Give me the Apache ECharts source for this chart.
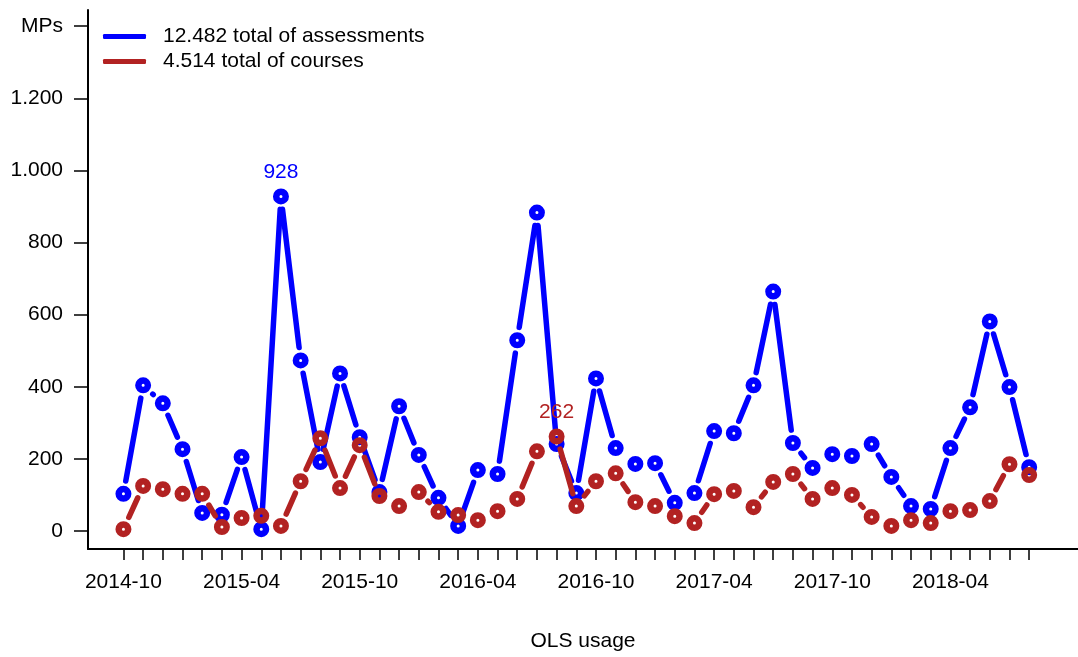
<!DOCTYPE html>
<html>
<head>
<meta charset="utf-8">
<script src="https://cdn.jsdelivr.net/npm/echarts@6/dist/echarts.min.js"></script>
<style>
  html, body { margin: 0; padding: 0; background: #fff; }
  #chart { width: 1078px; height: 657px; }
</style>
</head>
<body>
<div id="chart"></div>
<script>
// months on the x axis
var months = [
  '2014-10', '2014-11', '2014-12',
  '2015-01', '2015-02', '2015-03', '2015-04', '2015-05', '2015-06', '2015-07', '2015-08', '2015-09', '2015-10', '2015-11', '2015-12',
  '2016-01', '2016-02', '2016-03', '2016-04', '2016-05', '2016-06', '2016-07', '2016-08', '2016-09', '2016-10', '2016-11', '2016-12',
  '2017-01', '2017-02', '2017-03', '2017-04', '2017-05', '2017-06', '2017-07', '2017-08', '2017-09', '2017-10', '2017-11', '2017-12',
  '2018-01', '2018-02', '2018-03', '2018-04', '2018-05', '2018-06', '2018-07', '2018-08'
];
var xTickLabels = ['2014-10', '2015-04', '2015-10', '2016-04', '2016-10', '2017-04', '2017-10', '2018-04'];

// MPs per month
var assessments = [103, 404, 354, 227, 50, 45, 205, 5, 928, 473, 191, 437, 260, 108, 346, 211, 92, 14, 169, 158,
  529, 883, 241, 105, 423, 230, 186, 188, 78, 105, 277, 271, 404, 664, 244, 175, 213, 208, 241, 150, 69, 61,
  230, 343, 581, 399, 177];
var courses = [5, 125, 116, 103, 103, 11, 36, 42, 14, 138, 257, 119, 238, 97, 69, 108, 53, 44, 30, 55,
  89, 221, 262, 69, 138, 160, 80, 69, 41, 22, 102, 111, 66, 136, 158, 89, 119, 100, 39, 14, 30, 22,
  55, 58, 83, 185, 155];

var yTicks = [0, 200, 400, 600, 800, 1000, 1200, 1400];
var yTickLabels = ['0', '200', '400', '600', '800', '1.000', '1.200', 'MPs'];

var nameA = '12.482 total of assessments';
var nameC = '4.514 total of courses';
var BLUE = '#0000ff';
var RED = '#b22222';
var FONT = "'Liberation Sans', Arial, Helvetica, sans-serif";
var GAP = 13; // gap between point and line (like R type = "b")

function toPairs(vals) {
  var out = [];
  for (var i = 0; i < vals.length; i++) out.push([i, vals[i]]);
  return out;
}

// segments cut short at both ends
function segRender(vals, color) {
  return function(params, api) {
    var i = params.dataIndex;
    if (i >= vals.length - 1) return null;
    var p = api.coord([i, vals[i]]);
    var q = api.coord([i + 1, vals[i + 1]]);
    var dx = q[0] - p[0], dy = q[1] - p[1];
    var len = Math.sqrt(dx * dx + dy * dy);
    if (len <= 2 * GAP) return null;
    var ux = dx / len, uy = dy / len;
    return {
      type: 'line',
      shape: { x1: p[0] + ux * GAP, y1: p[1] + uy * GAP, x2: q[0] - ux * GAP, y2: q[1] - uy * GAP },
      style: { stroke: color, lineWidth: 5.5, lineCap: 'round' }
    };
  };
}

// points, the biggest one gets its value on top
function points(vals, color) {
  var maxI = vals.indexOf(Math.max.apply(null, vals));
  return vals.map(function(v, i) {
    var item = { value: [i, v] };
    if (i === maxI) {
      item.label = { show: true, position: 'top', distance: 6, color: color,
        fontFamily: FONT, fontSize: 21, formatter: String(v) };
    }
    return item;
  });
}

var chart = echarts.init(document.getElementById('chart'));

var option = {
  animation: false,
  backgroundColor: '#fff',
  textStyle: { fontFamily: FONT },
  grid: { left: 88, right: 0, top: 10, bottom: 107 },
  legend: {
    orient: 'vertical',
    left: 98,
    top: 21,
    icon: 'roundRect',
    itemWidth: 43,
    itemHeight: 5,
    itemGap: 4,
    textStyle: { fontFamily: FONT, fontSize: 21, color: '#000', lineHeight: 21, padding: [0, 0, 0, 12] },
    data: [
      { name: nameA, itemStyle: { color: BLUE, borderWidth: 0 } },
      { name: nameC, itemStyle: { color: RED, borderWidth: 0 } }
    ]
  },
  xAxis: {
    type: 'value',
    min: -1.8,
    max: 48.48,
    name: 'OLS usage',
    nameLocation: 'middle',
    nameGap: 82,
    nameTextStyle: { fontFamily: FONT, fontSize: 21, color: '#000' },
    splitLine: { show: false },
    axisLine: { show: true, onZero: false, lineStyle: { color: '#000', width: 2 } },
    axisTick: {
      show: true, length: 11, lineStyle: { color: '#000', width: 1.5 },
      customValues: months.map(function(m, i) { return i; })
    },
    axisLabel: {
      fontFamily: FONT, fontSize: 21, color: '#000', margin: 23,
      customValues: xTickLabels.map(function(t) { return months.indexOf(t); }),
      formatter: function(v) { return months[v]; }
    }
  },
  yAxis: {
    type: 'value',
    min: -50,
    max: 1445,
    splitLine: { show: false },
    axisLine: { show: true, onZero: false, lineStyle: { color: '#000', width: 2 } },
    axisTick: { show: true, length: 14, lineStyle: { color: '#000', width: 1.5 }, customValues: yTicks },
    axisLabel: {
      fontFamily: FONT, fontSize: 21, color: '#000', margin: 25,
      customValues: yTicks,
      formatter: function(v) { return yTickLabels[yTicks.indexOf(v)]; }
    }
  },
  series: [
    {
      name: nameA, type: 'custom', z: 2, clip: false,
      renderItem: segRender(assessments, BLUE),
      encode: { x: 0, y: 1 },
      data: toPairs(assessments),
      itemStyle: { color: BLUE }
    },
    {
      name: nameA, type: 'scatter', z: 3,
      symbol: 'circle', symbolSize: 9.5,
      itemStyle: { color: 'rgba(0,0,0,0)', borderColor: BLUE, borderWidth: 6.5, opacity: 1 },
      data: points(assessments, BLUE)
    },
    {
      name: nameC, type: 'custom', z: 4, clip: false,
      renderItem: segRender(courses, RED),
      encode: { x: 0, y: 1 },
      data: toPairs(courses),
      itemStyle: { color: RED }
    },
    {
      name: nameC, type: 'scatter', z: 5,
      symbol: 'circle', symbolSize: 9.5,
      itemStyle: { color: 'rgba(0,0,0,0)', borderColor: RED, borderWidth: 6.5, opacity: 1 },
      data: points(courses, RED)
    }
  ]
};

chart.setOption(option);
</script>
</body>
</html>
